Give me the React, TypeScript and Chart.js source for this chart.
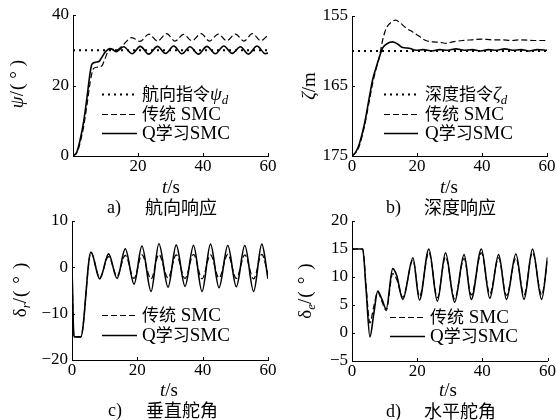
import React, { useEffect, useRef } from 'react';
import { Chart, registerables } from 'chart.js';

Chart.register(...registerables);

// ---------- shared axis ticks ----------
const timeTicks = [0, 20, 40, 60];
const headingTicks = [0, 20, 40];
const depthTicks = [155, 165, 175];
const rudderTicks = [-20, -10, 0, 10];
const elevatorTicks = [-5, 0, 5, 10, 15, 20];

// ---------- a) heading response ----------
const headingCmdT = [0, 60];
const headingCmd = [30, 30];
const headingSmcT = [0, 1.2, 2.2, 3.3, 4.3, 5.3, 6.3, 7.5, 8.9, 9.8, 10.7, 11.8, 13.3, 15.2, 18.1, 20.6, 23.4, 26.0, 28.8, 31.4, 34.0, 36.6, 39.4, 42.0, 44.7, 47.3, 50.0, 52.6, 55.2, 57.8, 60];
const headingSmc = [0, 0.9, 3.8, 8.5, 14.5, 21, 24.8, 25.2, 25.6, 27.5, 29.5, 30.4, 30.0, 31.3, 33.6, 32.5, 34.6, 32.6, 34.7, 32.6, 34.5, 32.7, 34.7, 32.6, 34.6, 32.7, 34.6, 32.6, 34.7, 32.7, 34.3];
const headingQT = [0, 1.2, 2.2, 3.3, 4.3, 5.3, 5.8, 7, 8.2, 9, 10, 11.5, 13.3, 15.6, 18.2, 20.7, 23.3, 26, 28.5, 31, 33.5, 36, 38.6, 41.2, 43.8, 46.4, 49, 51.5, 54, 56.6, 59.2, 60];
const headingQ = [0, 1.2, 4.6, 9.9, 16.6, 23.8, 26, 26.6, 27.0, 28.2, 29.6, 30.5, 29.6, 31.0, 29.0, 31.1, 28.9, 31.1, 29.1, 31.2, 29.0, 31.0, 28.9, 31.1, 29.0, 31.2, 29.1, 31.0, 28.9, 31.2, 29.0, 29.2];

// ---------- b) depth response ----------
const depthCmdT = [0, 60];
const depthCmd = [160, 160];
const depthSmcT = [0, 1.2, 2.3, 3.8, 5.3, 6.4, 7.4, 8.4, 9.4, 10.5, 12, 13.5, 14.6, 16.6, 18.7, 20.7, 22.7, 24.8, 27, 29, 31, 34, 37, 40, 43, 46, 49, 52, 56, 60];
const depthSmc = [175, 174.5, 173.5, 170.8, 167.2, 164.5, 162.6, 160.9, 158.5, 156.8, 155.9, 155.6, 155.9, 156.7, 157.3, 157.9, 158.5, 158.7, 158.75, 158.9, 158.7, 158.5, 158.4, 158.3, 158.4, 158.4, 158.5, 158.4, 158.5, 158.5];
const depthQT = [0, 1.2, 2.3, 3.8, 5.3, 6.4, 7.4, 8.4, 9.4, 11, 12.5, 14, 15.6, 17.6, 19.7, 22, 24.5, 27, 29.5, 32, 34.5, 37, 39.5, 42, 44.5, 47, 49.5, 52, 54.5, 57, 60];
const depthQ = [175, 174.4, 173.2, 170.5, 166.7, 164.0, 162.4, 160.9, 159.6, 158.9, 158.7, 159.0, 159.5, 159.6, 159.9, 159.8, 160.0, 159.8, 159.9, 159.7, 159.9, 159.8, 160.0, 159.8, 159.9, 159.7, 159.9, 159.8, 160.0, 159.8, 159.9];

// ---------- c) vertical rudder ----------
const rudderT = [0, 0.6, 2.7, 5.8, 8.5, 11.2, 13.8, 16.3, 19.0, 21.4, 24.2, 26.6, 29.4, 31.9, 34.6, 37.2, 39.8, 42.4, 45.0, 47.7, 50.3, 52.9, 55.6, 58.1, 60];
const rudderSmc = [0, -15, -15, 3.2, -2.2, 2.3, -1.9, 2.6, -2.4, 2.7, -2.5, 2.8, -2.3, 2.7, -2.4, 2.8, -2.5, 2.7, -2.3, 2.8, -2.4, 2.7, -2.5, 2.8, -1.5];
const rudderQ = [0, -15, -15, 3.3, -2.5, 2.9, -2.4, 4.0, -3.6, 4.6, -5.2, 5.1, -4.3, 4.8, -4.1, 4.7, -5.2, 5.0, -4.4, 4.7, -4.2, 4.7, -5.2, 5.0, -2.5];

// ---------- d) horizontal rudder ----------
const elevT = [0, 3.3, 4.3, 5.5, 6.7, 7.9, 9.2, 10.5, 12.5, 13.7, 15.6, 18.7, 20.7, 23.6, 26.2, 28.7, 31.5, 34.4, 36.6, 39.7, 42.3, 45.0, 47.4, 50.3, 52.8, 55.4, 58.2, 60];
const elevSmc = [15, 15, 8.5, 1.8, 4.8, 7.3, 5.6, 4.0, 10.6, 9.6, 6.4, 13.0, 6.5, 14.4, 6.3, 13.6, 6.1, 13.3, 6.8, 14.3, 7.0, 13.4, 6.7, 13.4, 6.8, 14.4, 6.8, 12.8];
const elevQ = [15, 15, 8, -0.7, 3.5, 7.5, 6.0, 4.3, 11.5, 10.3, 6.0, 13.4, 5.9, 15.0, 5.7, 14.3, 5.5, 14.0, 6.0, 15.0, 6.2, 14.0, 6.0, 14.1, 6.0, 15.0, 6.0, 13.5];

// ---------- text helpers ----------
const SERIF = '"Liberation Serif", "DejaVu Serif", serif';
const CJK = '"Noto Sans CJK SC", sans-serif';
const sf = (s: number, it = false) => `${it ? 'italic ' : ''}${s}px ${SERIF}`;
const cf = (s: number) => `${s}px ${CJK}`;

type Seg = { t: string; f: string; dy?: number; gap?: number };
type Style = 'dot' | 'dash' | 'solid';

const styleOf = (s: Style) =>
  s === 'dot'
    ? { borderWidth: 2, borderDash: [2, 4] }
    : s === 'dash'
    ? { borderWidth: 1.2, borderDash: [6, 3] }
    : { borderWidth: 1.6, borderDash: [] as number[] };

function drawRich(ctx: CanvasRenderingContext2D, segs: Seg[], x: number, y: number, center: boolean, rot = false) {
  ctx.save();
  ctx.translate(x, y);
  if (rot) ctx.rotate(-Math.PI / 2);
  ctx.textAlign = 'left';
  ctx.textBaseline = 'alphabetic';
  ctx.fillStyle = '#000';
  let w = 0;
  const ws = segs.map((s) => {
    ctx.font = s.f;
    const m = ctx.measureText(s.t).width + (s.gap || 0);
    w += m;
    return m;
  });
  let cx = center ? -w / 2 : 0;
  segs.forEach((s, i) => {
    ctx.font = s.f;
    ctx.fillText(s.t, cx, s.dy || 0);
    cx += ws[i];
  });
  ctx.restore();
}

interface Series { t: number[]; v: number[]; style: Style }
interface PanelCfg {
  area: { l: number; r: number; t: number; b: number };
  yMin: number; yMax: number; yTicks: number[]; reverse?: boolean; hideX0?: boolean;
  series: Series[];
  legend: { x0: number; x1: number; tx: number; rows: { y: number; style: Style; segs: Seg[] }[] };
  yTitle: { x: number; y: number; segs: Seg[] };
  xTitle: { x: number; y: number };
  caption: { y: number; label: string; lx: number; text: string; tx: number };
}

const W = 556;
const H = 420;

const legendSmcRow = (y: number) => ({ y, style: 'dash' as Style, segs: [{ t: '传统', f: cf(17) }, { t: ' SMC', f: sf(19) }] });
const legendQRow = (y: number) => ({ y, style: 'solid' as Style, segs: [{ t: 'Q', f: sf(19) }, { t: '学习', f: cf(17) }, { t: 'SMC', f: sf(19) }] });
const degSegs = (gap: number): Seg[] => [
  { t: '/', f: sf(19), gap: 1 },
  { t: '(', f: sf(19), gap },
  { t: '°', f: sf(19), gap },
  { t: ')', f: sf(19) },
];

const panels: PanelCfg[] = [
  {
    area: { l: 73, r: 268, t: 15, b: 156 },
    yMin: 0, yMax: 40, yTicks: headingTicks, hideX0: true,
    series: [
      { t: headingCmdT, v: headingCmd, style: 'dot' },
      { t: headingSmcT, v: headingSmc, style: 'dash' },
      { t: headingQT, v: headingQ, style: 'solid' },
    ],
    legend: {
      x0: 102, x1: 137, tx: 142,
      rows: [
        { y: 94, style: 'dot', segs: [{ t: '航向指令', f: cf(17) }, { t: 'ψ', f: sf(19, true) }, { t: 'd', f: sf(13, true), dy: 4 }] },
        legendSmcRow(114),
        legendQRow(133),
      ],
    },
    yTitle: { x: 17, y: 84, segs: [{ t: 'ψ', f: sf(19, true) }, ...degSegs(5)] },
    xTitle: { x: 171, y: 187 },
    caption: { y: 207, label: 'a)', lx: 107, text: '航向响应', tx: 145 },
  },
  {
    area: { l: 352, r: 547, t: 16, b: 156 },
    yMin: 155, yMax: 175, yTicks: depthTicks, reverse: true,
    series: [
      { t: depthCmdT, v: depthCmd, style: 'dot' },
      { t: depthSmcT, v: depthSmc, style: 'dash' },
      { t: depthQT, v: depthQ, style: 'solid' },
    ],
    legend: {
      x0: 384, x1: 418, tx: 425,
      rows: [
        { y: 94, style: 'dot', segs: [{ t: '深度指令', f: cf(17) }, { t: 'ζ', f: sf(19, true) }, { t: 'd', f: sf(13, true), dy: 4 }] },
        legendSmcRow(114),
        legendQRow(133),
      ],
    },
    yTitle: { x: 309, y: 86, segs: [{ t: 'ζ', f: sf(19, true) }, { t: '/m', f: sf(19) }] },
    xTitle: { x: 449, y: 187 },
    caption: { y: 207, label: 'b)', lx: 386, text: '深度响应', tx: 424 },
  },
  {
    area: { l: 72, r: 268, t: 221, b: 360 },
    yMin: -20, yMax: 10, yTicks: rudderTicks,
    series: [
      { t: rudderT, v: rudderSmc, style: 'dash' },
      { t: rudderT, v: rudderQ, style: 'solid' },
    ],
    legend: { x0: 102, x1: 137, tx: 142, rows: [legendSmcRow(315), legendQRow(335)] },
    yTitle: { x: 20, y: 290, segs: [{ t: 'δ', f: sf(19) }, { t: 'r', f: sf(13, true), dy: 4 }, ...degSegs(7)] },
    xTitle: { x: 169, y: 390 },
    caption: { y: 410, label: 'c)', lx: 108, text: '垂直舵角', tx: 146 },
  },
  {
    area: { l: 352, r: 548, t: 221, b: 361 },
    yMin: -5, yMax: 20, yTicks: elevatorTicks,
    series: [
      { t: elevT, v: elevSmc, style: 'dash' },
      { t: elevT, v: elevQ, style: 'solid' },
    ],
    legend: { x0: 390, x1: 425, tx: 430, rows: [legendSmcRow(317), legendQRow(336)] },
    yTitle: { x: 305, y: 291, segs: [{ t: 'δ', f: sf(19) }, { t: 'e', f: sf(13, true), dy: 4 }, ...degSegs(7)] },
    xTitle: { x: 448, y: 390 },
    caption: { y: 411, label: 'd)', lx: 386, text: '水平舵角', tx: 424 },
  },
];

const minus = (v: number | string) => String(v).replace('-', '−');

const Y_AXIS_W = 60;
const X_AXIS_H = 30;

function Panel({ cfg }: { cfg: PanelCfg }) {
  const ref = useRef<HTMLCanvasElement | null>(null);
  useEffect(() => {
    const canvas = ref.current;
    if (!canvas) return;
    const a = cfg.area;
    const deco = {
      id: 'deco',
      afterDraw(chart: any) {
        const ctx: CanvasRenderingContext2D = chart.ctx;
        const { left, bottom } = chart.chartArea;
        const xs = chart.scales.x;
        const ys = chart.scales.y;
        ctx.save();
        ctx.strokeStyle = '#000';
        ctx.lineWidth = 1;
        ctx.beginPath();
        timeTicks.forEach((v) => {
          const px = Math.round(xs.getPixelForValue(v)) + 0.5;
          ctx.moveTo(px, bottom);
          ctx.lineTo(px, bottom - 3);
        });
        cfg.yTicks.forEach((v) => {
          const py = Math.round(ys.getPixelForValue(v)) + 0.5;
          ctx.moveTo(left, py);
          ctx.lineTo(left + 3, py);
        });
        ctx.stroke();
        // legend
        cfg.legend.rows.forEach((row) => {
          const st = styleOf(row.style);
          ctx.beginPath();
          ctx.lineWidth = st.borderWidth;
          ctx.setLineDash(st.borderDash);
          ctx.moveTo(cfg.legend.x0, row.y + 0.5);
          ctx.lineTo(cfg.legend.x1, row.y + 0.5);
          ctx.stroke();
          ctx.setLineDash([]);
          drawRich(ctx, row.segs, cfg.legend.tx, row.y + 6, false);
        });
        ctx.restore();
        // axis titles
        drawRich(ctx, cfg.yTitle.segs, cfg.yTitle.x + 6, cfg.yTitle.y, true, true);
        drawRich(ctx, [{ t: 't', f: sf(19, true) }, { t: '/s', f: sf(19) }], cfg.xTitle.x, cfg.xTitle.y + 6, true);
        // caption
        drawRich(ctx, [{ t: cfg.caption.label, f: sf(18) }], cfg.caption.lx, cfg.caption.y + 6, false);
        drawRich(ctx, [{ t: cfg.caption.text, f: cf(18) }], cfg.caption.tx, cfg.caption.y + 7, false);
      },
    };
    const chart = new Chart(canvas, {
      type: 'line',
      data: {
        datasets: cfg.series.map((s) => ({
          data: s.t.map((t, i) => ({ x: t, y: s.v[i] })),
          borderColor: '#000',
          backgroundColor: '#000',
          pointRadius: 0,
          fill: false,
          cubicInterpolationMode: 'monotone' as const,
          ...styleOf(s.style),
        })),
      },
      options: {
        animation: false,
        responsive: false,
        events: [],
        layout: {
          padding: {
            left: a.l - Y_AXIS_W,
            top: a.t,
            right: W - a.r,
            bottom: H - a.b - X_AXIS_H,
          },
        },
        plugins: { legend: { display: false }, tooltip: { enabled: false }, title: { display: false } },
        scales: {
          x: {
            type: 'linear',
            min: 0,
            max: 60,
            grid: { display: false, drawTicks: false },
            border: { display: true, color: '#000', width: 1 },
            afterBuildTicks: (s: any) => { s.ticks = timeTicks.map((v) => ({ value: v })); },
            afterFit: (s: any) => { s.height = X_AXIS_H; },
            ticks: {
              autoSkip: false,
              maxRotation: 0,
              padding: 0,
              color: '#000',
              font: { family: SERIF, size: 17 },
              callback: (v: any) => (cfg.hideX0 && v === 0 ? '' : minus(v)),
            },
          },
          y: {
            type: 'linear',
            min: cfg.yMin,
            max: cfg.yMax,
            reverse: !!cfg.reverse,
            grid: { display: false, drawTicks: false },
            border: { display: true, color: '#000', width: 1 },
            afterBuildTicks: (s: any) => { s.ticks = cfg.yTicks.map((v) => ({ value: v })); },
            afterFit: (s: any) => { s.width = Y_AXIS_W; },
            ticks: {
              autoSkip: false,
              padding: 4,
              color: '#000',
              font: { family: SERIF, size: 17 },
              callback: (v: any) => minus(v),
            },
          },
        },
      },
      plugins: [deco],
    } as any);
    return () => chart.destroy();
  }, [cfg]);
  return (
    <canvas
      ref={ref}
      width={W}
      height={H}
      style={{ position: 'absolute', left: 0, top: 0, width: W, height: H }}
    />
  );
}

export default function App() {
  return (
    <div style={{ position: 'absolute', left: 0, top: 0, width: W, height: H, background: '#fff', overflow: 'hidden' }}>
      {panels.map((p, i) => (
        <Panel key={i} cfg={p} />
      ))}
    </div>
  );
}
